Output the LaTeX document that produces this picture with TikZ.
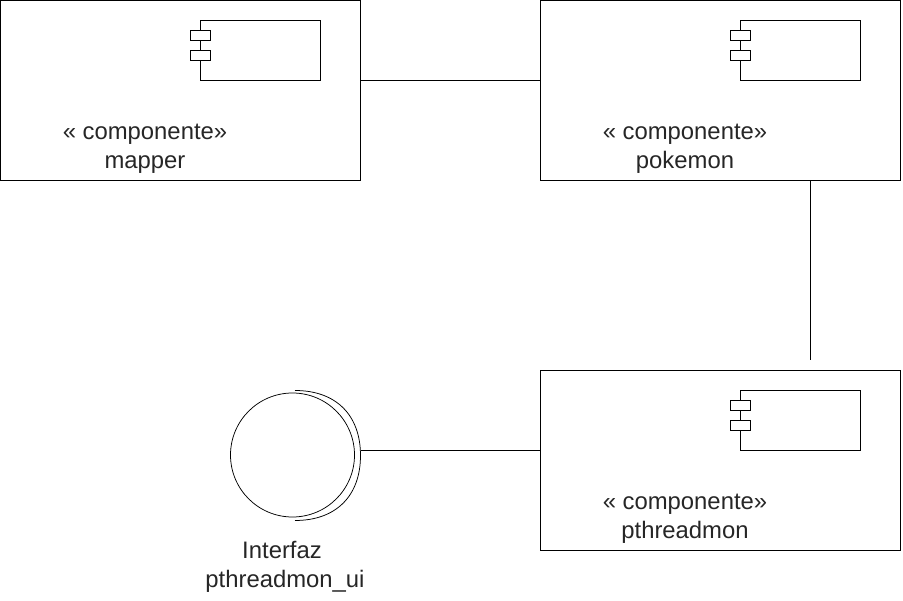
\documentclass[tikz,border=0pt]{standalone}
\usepackage{fontspec}
\setmainfont{Liberation Sans}
\begin{document}
\begin{tikzpicture}[x=1pt,y=-1pt,every node/.style={inner sep=0pt,outer sep=0pt},
 line/.style={draw=black,line width=0.75pt},
 lbl/.style={font=\fontsize{15.9}{19.4}\selectfont,text=black!85,align=center}]
\useasboundingbox (0,0) rectangle (903,601);
\def\comp#1#2#3#4{%
 \node[line,minimum width=360pt,minimum height=180pt,anchor=north west] (#1) at (#2+0.5,#3+0.5) {};
 \node[line,minimum width=120pt,minimum height=60pt,anchor=north west] (#1in) at (#2+200.5,#3+20.5) {};
 \node[line,fill=white,minimum width=20pt,minimum height=10pt,anchor=north west] (#1p) at (#2+190.5,#3+30.5) {};
 \node[line,fill=white,minimum width=20pt,minimum height=10pt,anchor=north west] (#1q) at (#2+190.5,#3+50.5) {};
 \node[lbl,scale=1.5] (#1t) at (#2+145,#3+149) {« componente»\\#4};}
\comp{m}{0}{0}{mapper}
\comp{p}{540}{0}{pokemon}
\comp{t}{540}{370}{pthreadmon}
\coordinate (free) at (810.5,360);
\draw[line] (m.east |- min.south) -- (p.west |- min.south);
\draw[line] (p.south -| free) -- (free);
\node[line,circle,minimum size=124pt] (c) at (292.5,455) {};
\coordinate (arcend) at (360.5,450.5);
\draw[line] (295,390.5) .. controls (336,390.5) and (360.5,415) .. (360.5,455.5) .. controls (360.5,496) and (336,520.5) .. (295,520.5);
\draw[line] (arcend) -- (t.west |- arcend);
\node[lbl,scale=1.5] (il) at (285,567) {Interfaz\hspace*{4pt}\\pthreadmon\_ui};
\end{tikzpicture}
\end{document}
